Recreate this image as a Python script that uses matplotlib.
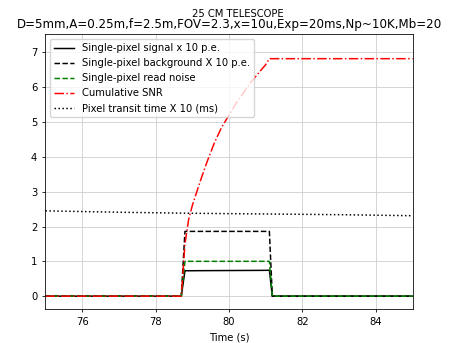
import matplotlib
matplotlib.use("Agg")
import matplotlib.pyplot as plt

# time samples (s) shared by signal / background / noise / SNR
time_s = [75.0, 78.7, 78.8, 78.9, 79.0, 79.2, 79.4, 79.6, 79.8, 80.0,
          80.2, 80.4, 80.6, 80.8, 81.0, 81.1, 81.18, 85.0]
signal_x10 = [0, 0, 0.73, 0.73, 0.73, 0.732, 0.733, 0.734, 0.735, 0.736,
              0.737, 0.738, 0.739, 0.74, 0.742, 0.745, 0, 0]
background_x10 = [0, 0, 1.86, 1.86, 1.86, 1.86, 1.86, 1.86, 1.86, 1.86,
                  1.86, 1.86, 1.86, 1.86, 1.86, 1.86, 0, 0]
read_noise = [0, 0, 1.0, 1.0, 1.0, 1.0, 1.0, 1.0, 1.0, 1.0,
              1.0, 1.0, 1.0, 1.0, 1.0, 1.0, 0, 0]
cum_snr = [0, 0, 1.5, 2.2, 2.6, 3.25, 3.85, 4.4, 4.85, 5.2,
           5.55, 5.85, 6.15, 6.4, 6.65, 6.82, 6.82, 6.82]

# pixel transit time x10 (ms)
transit_t = [75.0, 77.0, 79.0, 81.0, 83.0, 85.0]
transit_x10 = [2.45, 2.41, 2.38, 2.36, 2.34, 2.31]

s = 458 / 640  # original drawn at 640x480, shown smaller
plt.rcParams['font.size'] = 10 * s
plt.rcParams['lines.linewidth'] = 1.5 * s
plt.rcParams['axes.linewidth'] = 0.8 * s
plt.rcParams['xtick.major.width'] = 0.8 * s
plt.rcParams['ytick.major.width'] = 0.8 * s
plt.rcParams['xtick.major.size'] = 3.5 * s
plt.rcParams['ytick.major.size'] = 3.5 * s
plt.rcParams['grid.linewidth'] = 0.8 * s

fig = plt.figure(figsize=(4.58, 3.43), dpi=100)
ax = fig.add_axes([0.0993, 0.099, 0.8014, 0.801])

ax.plot(time_s, signal_x10, 'k-', label='Single-pixel signal x 10 p.e.')
ax.plot(time_s, background_x10, 'k--', label='Single-pixel background X 10 p.e.')
ax.plot(time_s, read_noise, 'g--', label='Single-pixel read noise')
ax.plot(time_s, cum_snr, 'r-.', label='Cumulative SNR')
ax.plot(transit_t, transit_x10, 'k:', label='Pixel transit time X 10 (ms)')

ax.set_xlim(75, 85)
ax.set_ylim(-0.37, 7.52)
ax.set_xticks([76, 78, 80, 82, 84])
ax.set_yticks(range(0, 8))
ax.grid(True, color='#cccccc')
ax.set_xlabel('Time (s)')
ax.legend(loc='upper left')

fig.text(0.52, 0.95, '25 CM TELESCOPE', ha='center', va='baseline', fontsize=10 * s)
fig.text(0.5, 0.917, 'D=5mm,A=0.25m,f=2.5m,FOV=2.3,x=10u,Exp=20ms,Np~10K,Mb=20',
         ha='center', va='baseline', fontsize=12 * s)

fig.savefig('out.png', dpi=100)
